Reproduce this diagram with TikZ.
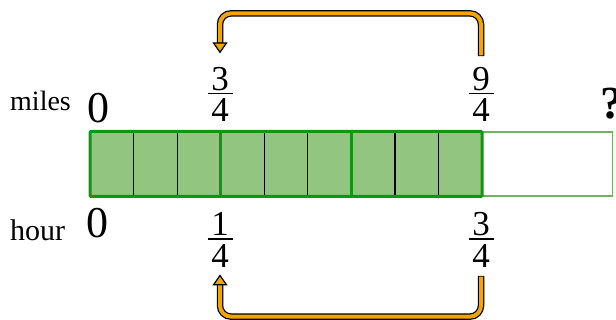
\documentclass[tikz,border=0pt]{standalone}
\usepackage{amsmath}
\usepackage{fontspec}
\setmainfont{Liberation Serif}
\usetikzlibrary{positioning,arrows.meta,calc}
\definecolor{barfill}{RGB}{146,198,128}
\definecolor{barline}{RGB}{16,150,16}
\definecolor{emptyline}{RGB}{112,178,96}
\definecolor{jump}{RGB}{242,165,0}
% stacked fraction in the text font
\newcommand\frc[2]{\vbox{\hbox to 25pt{\hss#1\hss}\kern2pt\hrule height 1.8pt\kern4.5pt\hbox to 25pt{\hss#2\hss}}}
\tikzset{
 unit/.style={draw=black,line width=1.2pt},
 group/.style={draw=barline,line width=3pt},
 num/.style={inner sep=0pt,font=\fontsize{35}{35}\selectfont},
 zero/.style={inner sep=0pt,font=\fontsize{44}{44}\selectfont},
 word/.style={inner sep=0pt,anchor=base west,font=\fontsize{28}{28}\selectfont},
 ask/.style={inner sep=0pt,font=\fontsize{46}{46}\selectfont\bfseries},
 jump outer/.style={draw=black,line width=6.5pt,rounded corners=11pt,shorten >=9pt,shorten <=-0.8pt},
 jump inner/.style={draw=jump,line width=4pt,rounded corners=11pt,
   -{Triangle[color=black,fill=jump,line width=1.2pt,width=15pt,length=11pt]}}
 }
\begin{document}
\begin{tikzpicture}[x=1pt,y=1pt]
  \useasboundingbox (0,0) rectangle (616,320);
  % tape
  \fill[barfill] (90,123.5) rectangle (482,188.5);
  \foreach \k in {1,2,4,5,7,8}
    \draw[unit] (90+\k*43.56,123.5) -- (90+\k*43.56,188.5);
  \foreach \k in {3,6}
    \draw[group] (90+\k*43.56,123.5) -- (90+\k*43.56,188.5);
  \draw[emptyline,line width=1.8pt] (482,124) rectangle (612.5,188);
  \draw[barline,line width=3pt,rounded corners=1pt] (90,123.5) rectangle (482,188.5);
  % miles
  \node[word] (miles) at (10,209) {miles};
  \node[zero] (mZero) at (98,212) {0};
  \node[num] (mA) at (220,225.5) {\frc{3}{4}};
  \node[num] (mB) at (481,225.5) {\frc{9}{4}};
  \node[ask] (mQ) at (612,216) {?};
  % hour
  \node[word,font=\fontsize{30}{30}\selectfont] (hour) at (10,79.3) {hour};
  \node[zero] (hZero) at (97.5,96.5) {0};
  \node[num] (hA) at (220,80) {\frc{1}{4}};
  \node[num] (hB) at (481,80) {\frc{3}{4}};
  % jumps
  \coordinate (mBup) at ([yshift=11.5pt]mB.north);
  \coordinate (mAup) at ([yshift=13.5pt]mA.north);
  \coordinate (hBdn) at ([yshift=-9pt]hB.south);
  \coordinate (hAdn) at ([yshift=-7pt]hA.south);
  \draw[jump outer] (mBup) -- ++(0,42) -| (mAup);
  \draw[jump inner] (mBup) -- ++(0,42) -| (mAup);
  \draw[jump outer] (hBdn) -- ++(0,-40) -| (hAdn);
  \draw[jump inner] (hBdn) -- ++(0,-40) -| (hAdn);
\end{tikzpicture}
\end{document}
